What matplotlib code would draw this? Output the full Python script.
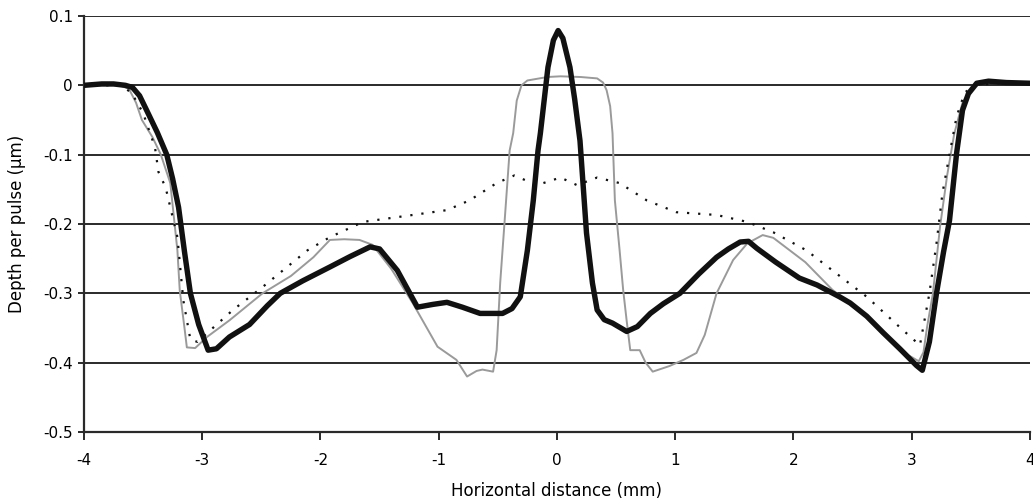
import matplotlib
matplotlib.use("Agg")
import matplotlib.pyplot as plt

# Thick black series
x_black = [-4.0, -3.85, -3.75, -3.65, -3.59, -3.53, -3.47, -3.38, -3.30, -3.25, -3.20, -3.15, -3.10, -3.03, -2.95,
           -2.88, -2.77, -2.60, -2.45, -2.34, -2.15, -1.92, -1.75, -1.58, -1.50, -1.35, -1.18, -1.05, -0.93, -0.80,
           -0.65, -0.46, -0.38, -0.31, -0.25, -0.20, -0.16, -0.14, -0.076, -0.03, 0.01, 0.05, 0.11, 0.15, 0.195,
           0.25, 0.30, 0.34, 0.40, 0.47, 0.59, 0.68, 0.79, 0.90, 1.04, 1.20, 1.35, 1.45, 1.55, 1.62, 1.69, 1.85,
           2.05, 2.20, 2.39, 2.48, 2.62, 2.76, 2.90, 3.04, 3.09, 3.15, 3.21, 3.27, 3.32, 3.38, 3.43, 3.48, 3.55,
           3.65, 3.80, 4.0]
y_black = [0.0, 0.002, 0.002, 0.0, -0.003, -0.015, -0.036, -0.068, -0.10, -0.135, -0.176, -0.24, -0.30, -0.345, -0.382,
           -0.380, -0.363, -0.345, -0.318, -0.300, -0.282, -0.262, -0.247, -0.233, -0.236, -0.267, -0.320, -0.316, -0.313, -0.320,
           -0.329, -0.329, -0.322, -0.305, -0.238, -0.166, -0.094, -0.069, 0.026, 0.065, 0.079, 0.068, 0.026, -0.02, -0.080,
           -0.213, -0.285, -0.324, -0.338, -0.343, -0.355, -0.348, -0.329, -0.315, -0.300, -0.272, -0.248, -0.236, -0.226, -0.225, -0.235, -0.255,
           -0.278, -0.288, -0.305, -0.314, -0.333, -0.357, -0.380, -0.404, -0.411, -0.370, -0.300, -0.240, -0.195, -0.098, -0.036, -0.012, 0.003,
           0.006, 0.004, 0.003]

# Thin gray series
x_gray = [-4.0, -3.70, -3.62, -3.56, -3.51, -3.42, -3.35, -3.27, -3.21, -3.19, -3.15, -3.13, -3.06, -2.96, -2.77,
          -2.49, -2.25, -2.06, -1.92, -1.80, -1.67, -1.56, -1.40, -1.22, -1.10, -1.01, -0.85, -0.76, -0.68, -0.63,
          -0.54, -0.51, -0.48, -0.44, -0.40, -0.37, -0.34, -0.30, -0.25, -0.08, 0.03, 0.20, 0.34, 0.39, 0.42, 0.45,
          0.47, 0.49, 0.53, 0.56, 0.59, 0.62, 0.66, 0.70, 0.75, 0.81, 0.95, 1.07, 1.18, 1.25, 1.35, 1.49, 1.61,
          1.74, 1.83, 2.10, 2.33, 2.60, 2.90, 3.00, 3.06, 3.10, 3.13, 3.18, 3.24, 3.30, 3.36, 3.43, 3.52, 3.65, 3.80, 4.0]
y_gray = [0.0, 0.0, -0.005, -0.025, -0.050, -0.075, -0.10, -0.141, -0.238, -0.296, -0.350, -0.378, -0.379, -0.363, -0.339,
          -0.300, -0.275, -0.248, -0.223, -0.222, -0.223, -0.230, -0.265, -0.314, -0.350, -0.377, -0.396, -0.420, -0.412, -0.410,
          -0.413, -0.382, -0.285, -0.190, -0.094, -0.069, -0.022, 0.000, 0.007, 0.012, 0.013, 0.012, 0.010, 0.004, -0.007, -0.030,
          -0.069, -0.166, -0.238, -0.295, -0.340, -0.382, -0.382, -0.382, -0.400, -0.413, -0.405, -0.396, -0.386, -0.360, -0.300, -0.252, -0.228,
          -0.216, -0.220, -0.255, -0.295, -0.330, -0.383, -0.392, -0.398, -0.385, -0.349, -0.300, -0.204, -0.130, -0.070, -0.025, 0.0, 0.005, 0.004, 0.003]

# Dotted series
x_dot = [-4.0, -3.70, -3.60, -3.50, -3.40, -3.37, -3.31, -3.21, -3.16, -3.10, -3.04, -2.93, -2.74, -2.49, -2.11,
         -1.92, -1.64, -1.22, -0.93, -0.74, -0.51, -0.36, -0.17, 0.03, 0.17, 0.34, 0.53, 0.76, 1.01, 1.35, 1.61,
         1.83, 2.11, 2.33, 2.62, 2.90, 3.07, 3.15, 3.21, 3.26, 3.32, 3.38, 3.45, 3.55, 3.70, 4.0]
y_dot = [0.0, 0.0, -0.01, -0.04, -0.089, -0.125, -0.147, -0.219, -0.310, -0.367, -0.370, -0.353, -0.324, -0.291, -0.238,
         -0.219, -0.197, -0.187, -0.180, -0.166, -0.141, -0.130, -0.144, -0.133, -0.144, -0.133, -0.141, -0.166, -0.183, -0.187, -0.197,
         -0.212, -0.238, -0.267, -0.305, -0.349, -0.375, -0.300, -0.228, -0.156, -0.100, -0.045, -0.010, 0.0, 0.003, 0.003]

x_ticks = [-4, -3, -2, -1, 0, 1, 2, 3, 4]
y_ticks = [-0.5, -0.4, -0.3, -0.2, -0.1, 0, 0.1]
y_tick_labels = ["-0.5", "-0.4", "-0.3", "-0.2", "-0.1", "0", "0.1"]

fig = plt.figure(figsize=(10.33, 5.03), dpi=100)
ax = fig.add_axes([0.0813, 0.1412, 0.9157, 0.8270])

for yv in y_ticks:
    ax.axhline(yv, color="#2a2a2a", lw=1.4, zorder=1)

ax.plot(x_dot, y_dot, color="#111111", lw=1.6, linestyle=(0, (1, 4)), zorder=3)
ax.plot(x_gray, y_gray, color="#9a9a9a", lw=1.4, zorder=2)
ax.plot(x_black, y_black, color="#111111", lw=3.9, zorder=4, solid_joinstyle="round")

ax.set_xlim(-4, 4)
ax.set_ylim(-0.5, 0.1)
ax.set_xticks(x_ticks)
ax.set_xticklabels([str(v) for v in x_ticks])
ax.set_yticks(y_ticks)
ax.set_yticklabels(y_tick_labels)

for s in ["top", "right"]:
    ax.spines[s].set_visible(False)
for s in ["left", "bottom"]:
    ax.spines[s].set_color("#2a2a2a")
    ax.spines[s].set_linewidth(1.6)

ax.tick_params(axis="x", direction="out", length=6, width=1.4, color="#2a2a2a", labelsize=11, pad=9)
ax.tick_params(axis="y", direction="out", length=4, width=1.4, color="#2a2a2a", labelsize=11, pad=4)

ax.set_xlabel("Horizontal distance (mm)", fontsize=12, labelpad=10)
ax.set_ylabel("Depth per pulse (µm)", fontsize=12, labelpad=12)

fig.savefig("out.png", dpi=100)
